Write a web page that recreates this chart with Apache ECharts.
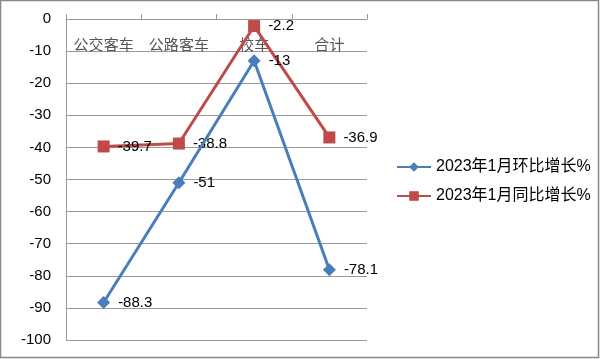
<!DOCTYPE html>
<html><head><meta charset="utf-8">
<script src="https://cdn.jsdelivr.net/npm/echarts@6/dist/echarts.min.js"></script>
<style>html,body{margin:0;padding:0;background:#fff}#c{width:600px;height:359px}</style>
</head><body><div id="c"></div>
<script>
const categories = ['公交客车', '公路客车', '校车', '合计'];
const seriesNames = ['2023年1月环比增长%', '2023年1月同比增长%'];
const momValues = [-88.3, -51, -13, -78.1];
const yoyValues = [-39.7, -38.8, -2.2, -36.9];
const yTicks = { min: -100, max: 0, interval: 10 };

const chart = echarts.init(document.getElementById('c'));
const labelStyle = { show: true, position: 'right', distance: 8, color: '#000', fontSize: 15, fontFamily: 'Liberation Sans, Arial, sans-serif' };
chart.setOption({
  animation: false,
  backgroundColor: '#fff',
  graphic: [{ type: 'rect', shape: { x: 0.5, y: 0.5, width: 598, height: 357 }, style: { fill: 'none', stroke: '#888', lineWidth: 1.5 } }],
  grid: { left: 66, right: 233, top: 19, bottom: 19 },
  legend: {
    orient: 'vertical', left: 391, top: 154, itemGap: 13, itemWidth: 34, itemHeight: 12,
    textStyle: { fontSize: 16, color: '#000', fontFamily: 'Liberation Sans, Noto Sans CJK SC, sans-serif' },
    data: seriesNames
  },
  xAxis: {
    type: 'category', position: 'top', data: categories, boundaryGap: true,
    axisLine: { show: true, lineStyle: { color: '#999', width: 1 } },
    axisTick: { show: true, inside: false, length: 5, lineStyle: { color: '#999' } },
    axisLabel: { inside: true, interval: 0, margin: 18, fontSize: 15, color: '#555', fontFamily: 'Noto Sans CJK SC, sans-serif' },
    splitLine: { show: false }
  },
  yAxis: {
    type: 'value', min: yTicks.min, max: yTicks.max, interval: yTicks.interval,
    axisLine: { show: true, lineStyle: { color: '#999' } },
    axisTick: { show: false },
    axisLabel: { fontSize: 15, color: '#000', margin: 15, fontFamily: 'Liberation Sans, Arial, sans-serif' },
    splitLine: { show: true, lineStyle: { color: '#999', width: 1 } }
  },
  series: [
    { name: seriesNames[0], type: 'line', data: momValues, symbol: 'diamond', symbolSize: 13,
      itemStyle: { color: '#4A7EBB' }, lineStyle: { color: '#4A7EBB', width: 3 }, label: labelStyle, z: 3 },
    { name: seriesNames[1], type: 'line', data: yoyValues, symbol: 'rect', symbolSize: 12,
      itemStyle: { color: '#BE4B48' }, lineStyle: { color: '#BE4B48', width: 3 }, label: labelStyle, z: 2 }
  ]
});
</script></body></html>
